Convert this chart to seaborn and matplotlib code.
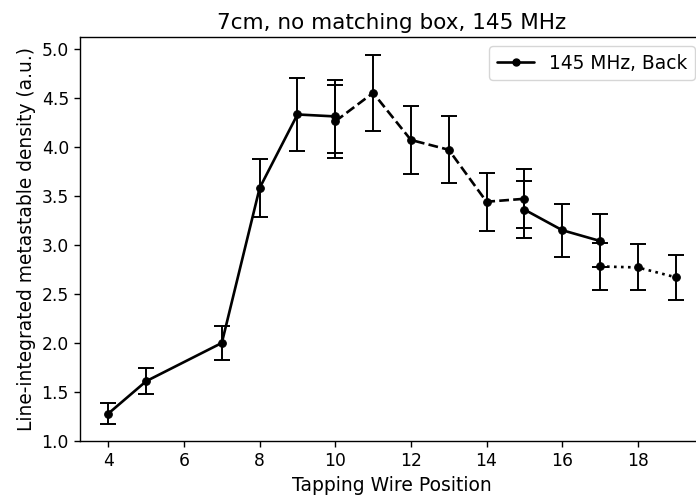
import matplotlib
matplotlib.use("Agg")
import matplotlib.pyplot as plt
import seaborn as sns
import pandas as pd
from matplotlib.lines import Line2D

# Segment 1: solid
x_solid1 = [4, 5, 7, 8, 9, 10]
y_solid1 = [1.28, 1.61, 2.00, 3.58, 4.33, 4.31]
e_solid1 = [0.11, 0.135, 0.17, 0.30, 0.37, 0.37]

# Segment 2: dashed
x_dash = [10, 11, 12, 13, 14, 15]
y_dash = [4.26, 4.55, 4.07, 3.97, 3.44, 3.47]
e_dash = [0.37, 0.385, 0.35, 0.34, 0.295, 0.30]

# Segment 3: solid
x_solid2 = [15, 16, 17]
y_solid2 = [3.36, 3.15, 3.04]
e_solid2 = [0.29, 0.27, 0.27]

# Segment 4: dotted
x_dot = [17, 18, 19]
y_dot = [2.78, 2.77, 2.67]
e_dot = [0.24, 0.235, 0.23]

title = "7cm, no matching box, 145 MHz"
xlabel = "Tapping Wire Position"
ylabel = "Line-integrated metastable density (a.u.)"
legend_label = "145 MHz, Back"

sns.set_style("ticks")
plt.rcParams['font.family'] = ['DejaVu Sans']
plt.rcParams.update({
    "text.color": "black",
    "axes.labelcolor": "black",
    "xtick.color": "black",
    "ytick.color": "black",
    "axes.edgecolor": "black",
})

fig = plt.figure(figsize=(6.96, 5.01), dpi=100)
ax = fig.add_axes([80/696, 1-441/501, 624/696, (441-37)/501])

segments = [
    (x_solid1, y_solid1, e_solid1, "-"),
    (x_dash, y_dash, e_dash, "--"),
    (x_solid2, y_solid2, e_solid2, "-"),
    (x_dot, y_dot, e_dot, ":"),
]
for xs, ys, es, ls in segments:
    df = pd.DataFrame({"x": xs, "y": ys})
    sns.lineplot(data=df, x="x", y="y", ax=ax, color="black", linestyle=ls,
                 linewidth=1.9, marker="o", markersize=5.5, markeredgecolor="black",
                 legend=False, sort=False)
    ax.errorbar(xs, ys, yerr=es, fmt="none", ecolor="black", elinewidth=1.4,
                capsize=6, capthick=1.4)

h = Line2D([], [], color="black", linestyle="-", linewidth=1.9, marker="o", markersize=5)
ax.legend([h], [legend_label], loc="upper right", fontsize=13.4, frameon=True)

ax.set_xlim(3.25, 19.75)
ax.set_ylim(1.0, 5.12)
ax.set_xticks([4, 6, 8, 10, 12, 14, 16, 18])
ax.set_yticks([1.0, 1.5, 2.0, 2.5, 3.0, 3.5, 4.0, 4.5, 5.0])
ax.tick_params(labelsize=12.3, direction="out", length=4.5, width=1,
               color="black", labelcolor="black")
ax.set_xlabel(xlabel, fontsize=13.5, color="black")
ax.set_ylabel(ylabel, fontsize=13.4, color="black")
ax.set_title(title, fontsize=15.5, color="black")
for s in ax.spines.values():
    s.set_color("black")
    s.set_linewidth(1.0)

fig.savefig("out.png", dpi=100)
